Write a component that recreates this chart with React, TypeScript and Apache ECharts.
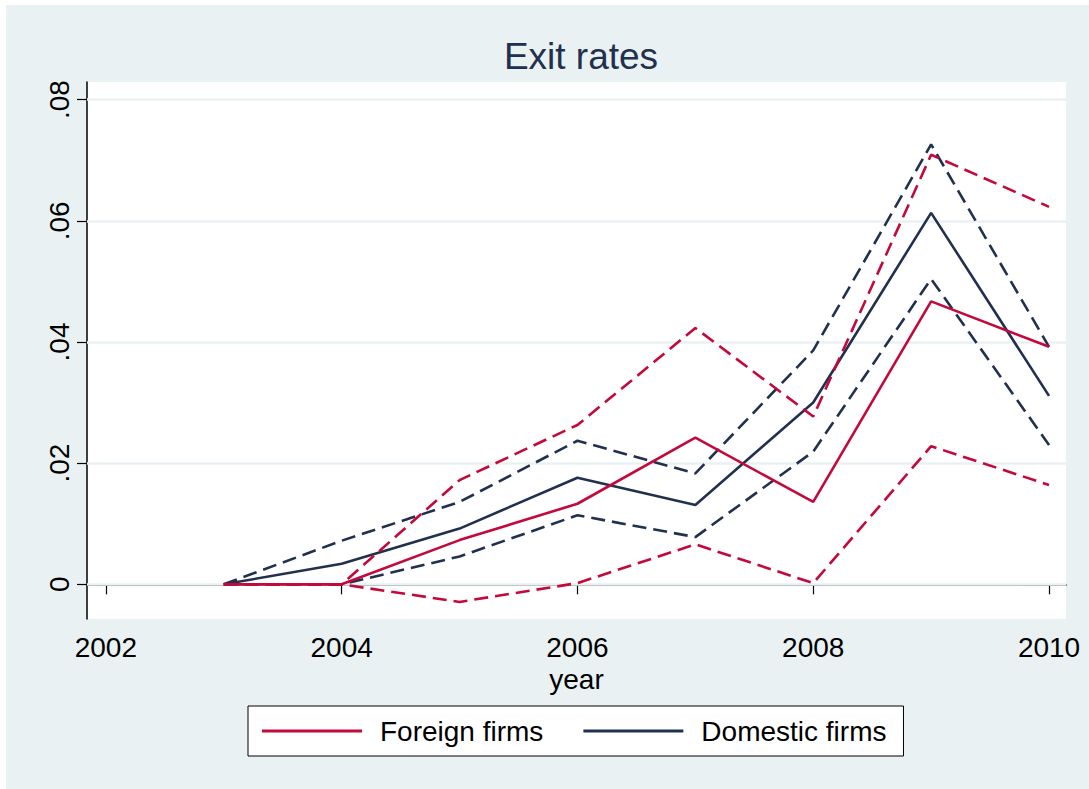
import React, { useEffect, useRef } from "react";
import * as echarts from "echarts";

// Years on the x axis
const years = [2003, 2004, 2005, 2006, 2007, 2008, 2009, 2010];

// Exit rates of foreign firms with confidence band
const foreign = [0, 0, 0.0073, 0.0133, 0.0242, 0.0136, 0.0467, 0.0392];
const foreignHi = [0, 0, 0.0172, 0.0263, 0.0423, 0.0277, 0.0709, 0.0623];
const foreignLo = [0, 0, -0.0029, 0.0002, 0.0066, 0.0002, 0.0228, 0.0164];

// Exit rates of domestic firms with confidence band
const domestic = [0, 0.0034, 0.0092, 0.0176, 0.0131, 0.03, 0.0613, 0.0311];
const domesticHi = [0, 0.0072, 0.0136, 0.0237, 0.0183, 0.0386, 0.0726, 0.0392];
const domesticLo = [0, 0, 0.0046, 0.0114, 0.0078, 0.0219, 0.0504, 0.023];

// Axis ticks
const xTicks = [2002, 2004, 2006, 2008, 2010];
const yTicks = [0, 0.02, 0.04, 0.06, 0.08];

const RED = "#c4083b";
const NAVY = "#22304f";
const BG = "#eaf1f3";
const FONT = "'Liberation Sans', Arial, sans-serif";

const pairs = (vals: number[]) => years.map((y, i) => [y, vals[i]]);

const lineSeries = (name: string, vals: number[], color: string, dashed: boolean) => ({
  name,
  type: "line",
  data: pairs(vals),
  showSymbol: false,
  symbol: "none",
  z: 10,
  itemStyle: { color },
  lineStyle: {
    color,
    width: 2.6,
    type: dashed ? [14, 7] : "solid",
    cap: "butt",
  },
});

export default function App() {
  const ref = useRef<HTMLDivElement>(null);

  useEffect(() => {
    document.body.style.margin = "0";
    if (!ref.current) return;
    const chart = echarts.init(ref.current, null, { renderer: "svg" });
    chart.setOption({
      animation: false,
      backgroundColor: BG,
      title: {
        text: "Exit rates",
        left: 570,
        top: 28,
        textAlign: "center",
        textStyle: {
          color: NAVY,
          fontSize: 37,
          fontWeight: "normal",
          fontFamily: FONT,
        },
      },
      legend: {
        data: ["Foreign firms", "Domestic firms"],
        left: 242,
        top: 701,
        padding: [11, 17, 11, 14],
        itemGap: 40,
        itemWidth: 100,
        itemHeight: 3,
        icon: "rect",
        backgroundColor: "#ffffff",
        borderColor: "#000000",
        borderWidth: 1,
        borderRadius: 0,
        textStyle: {
          color: "#000",
          fontSize: 28,
          fontFamily: FONT,
          padding: [0, 0, 0, 13],
        },
      },
      grid: {
        left: 81,
        top: 77,
        width: 979,
        height: 537,
        show: true,
        backgroundColor: "#ffffff",
        borderWidth: 0,
      },
      xAxis: {
        type: "value",
        min: 2001.84,
        max: 2010.144,
        name: "year",
        nameLocation: "middle",
        nameGap: 42,
        nameTextStyle: { color: "#000", fontSize: 28, fontFamily: FONT },
        axisLine: { show: true, lineStyle: { color: "#000", width: 1.5 } },
        axisTick: {
          show: true,
          length: 10,
          customValues: xTicks,
          lineStyle: { color: "#000", width: 1.2 },
        },
        axisLabel: {
          customValues: xTicks,
          margin: 14,
          color: "#000",
          fontSize: 28,
          fontFamily: FONT,
          formatter: (v: number) => String(v),
        },
        splitLine: { show: false },
      },
      yAxis: {
        type: "value",
        min: -0.00572,
        max: 0.0829,
        axisLine: { show: true, lineStyle: { color: "#000", width: 1.5 } },
        axisTick: {
          show: true,
          length: 10,
          customValues: yTicks,
          lineStyle: { color: "#000", width: 1.2 },
        },
        axisLabel: {
          customValues: yTicks,
          rotate: 90,
          margin: 14,
          color: "#000",
          fontSize: 28,
          fontFamily: FONT,
          formatter: (v: number) => (v === 0 ? "0" : v.toFixed(2).replace(/^0/, "")),
        },
        splitLine: { show: false },
      },
      series: [
        {
          name: "grid",
          type: "line",
          data: [[years[0], 0]],
          showSymbol: false,
          symbol: "none",
          lineStyle: { opacity: 0 },
          z: 1,
          silent: true,
          markLine: {
            silent: true,
            z: 1,
            symbol: ["none", "none"],
            label: { show: false },
            lineStyle: { color: BG, width: 2.6, type: "solid" },
            data: yTicks.map((v) => ({ yAxis: v })),
          },
        },
        lineSeries("Domestic upper bound", domesticHi, NAVY, true),
        lineSeries("Domestic lower bound", domesticLo, NAVY, true),
        lineSeries("Domestic firms", domestic, NAVY, false),
        lineSeries("Foreign upper bound", foreignHi, RED, true),
        lineSeries("Foreign lower bound", foreignLo, RED, true),
        lineSeries("Foreign firms", foreign, RED, false),
      ],
    });
    return () => chart.dispose();
  }, []);

  return (
    <div style={{ position: "relative", width: 1089, height: 789, background: "#ffffff" }}>
      <div
        ref={ref}
        style={{ position: "absolute", left: 6, top: 5, width: 1083, height: 784 }}
      />
    </div>
  );
}
